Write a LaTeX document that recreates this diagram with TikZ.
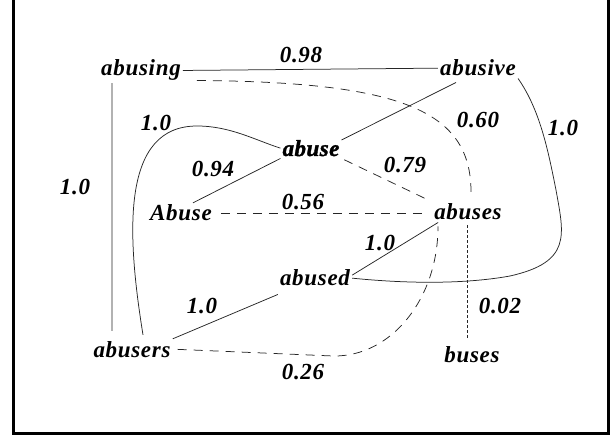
\documentclass[tikz,border=0pt]{standalone}
\usepackage{fontspec}
\setmainfont{Liberation Serif}[LetterSpace=3]
\newfontfamily\heavyfont{Liberation Serif}[LetterSpace=2, BoldItalicFeatures={FakeBold=1.6}]

\begin{document}
\begin{tikzpicture}[x = 1pt, y = -1pt,
    word/.style = {anchor=base, inner sep=2pt, font=\fontsize{23}{27}\selectfont\bfseries\itshape},
    wt/.style = {anchor=base, inner sep=1pt, font=\fontsize{23}{27}\selectfont\bfseries\itshape},
    link/.style = {line width=0.75pt, black!85},
    weak/.style = {link, dash pattern=on 9pt off 7pt},
    faint/.style = {link, dash pattern=on 3pt off 2pt}]
    \useasboundingbox (0,0) rectangle (610,435);
    \draw[line width=3pt] (13.5,0) -- (13.5,433) -- (608.5,433) -- (608.5,0);
    % words
    \node[word] (abusing) at (141,76) {abusing};
    \node[word] (abusive) at (478,76) {abusive};
    \node[word, font=\fontsize{23}{27}\selectfont\heavyfont\bfseries\itshape] (abuse) at (311,156) {abuse};
    \node[word] (Abuse) at (181,221) {Abuse};
    \node[word] (abuses) at (468,220) {abuses};
    \node[word] (abused) at (315,286) {abused};
    \node[word] (abusers) at (132,357) {abusers};
    \node[word] (buses) at (472,362) {buses};
    % links
    \draw[link]
    (abusing.east) -- (abusive.west)
    ([xshift=-29pt]abusing.south) -- ([xshift=-20pt, yshift=8pt]abusers.north)
    ([xshift=-22pt, yshift=-4pt]abusive.south) -- (abuse.15)
    ([xshift=12pt]Abuse.north) -- (abuse.south west)
    (abusers.north east) -- ([yshift=-6pt]abused.south west)
    ([yshift=3pt]abused.east) -- ([xshift=6pt]abuses.south west);
    \draw[link]
    (abusive.south east) .. controls (540,110) and (548,150) .. (556,190)
    .. controls (564,235) and (572,262) .. (510,276)
    .. controls (460,285) and (400,283) .. (abused.east);
    \draw[link]
    ([xshift=11pt, yshift=4pt]abusers.north) .. controls (126,230) and (122,126) .. (197,126)
    .. controls (230,126) and (255,140) .. (abuse.west);
    \draw[weak]
    ([xshift=14pt, yshift=-10pt]abusing.east) .. controls (400,82) and (471,110) .. ([xshift=3pt, yshift=10pt]abuses.north);
    \draw[weak, shorten <=3pt, shorten >=4pt] (abuse.south east) -- (abuses.north west);
    \draw[weak, shorten <=7pt, shorten >=5pt] (Abuse.east) -- (Abuse.east -| abuses.west);
    \draw[weak, shorten <=5pt]
    (abusers.east) -- (333,356) .. controls (391,357) and (438,299) .. ([xshift=-30pt, yshift=-4pt]abuses.south);
    \draw[faint, shorten <=3pt, shorten >=6pt] ([xshift=-1pt]abuses.south) -- ([xshift=-1pt]abuses.south |- buses.north);
    % weights
    \node[wt] (w1) at (301,63) {0.98};
    \node[wt] (w2) at (478,128) {0.60};
    \node[wt] (w3) at (563,136) {1.0};
    \node[wt] (w4) at (156,131) {1.0};
    \node[wt] (w5) at (213,177) {0.94};
    \node[wt] (w6) at (405,173) {0.79};
    \node[wt] (w7) at (75,195) {1.0};
    \node[wt] (w8) at (303,210) {0.56};
    \node[wt] (w9) at (380,251) {1.0};
    \node[wt] (w10) at (202,314) {1.0};
    \node[wt] (w11) at (500,314) {0.02};
    \node[wt] (w12) at (303,379) {0.26};
\end{tikzpicture}
\end{document}
